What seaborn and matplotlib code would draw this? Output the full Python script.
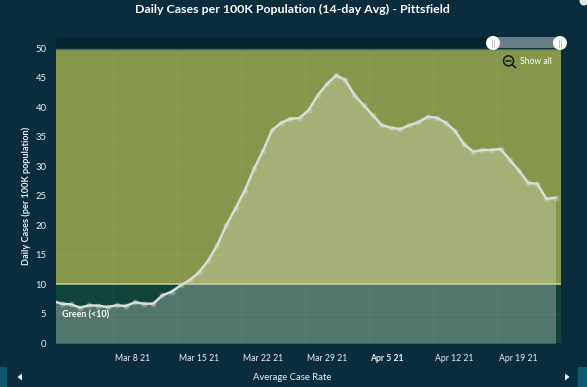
import matplotlib
matplotlib.use("Agg")
import matplotlib.pyplot as plt
import matplotlib.patches as mpatches
import matplotlib.transforms as mtransforms
import pandas as pd
import seaborn as sns

# daily values
case_rate = [7.15, 6.72, 6.60, 6.05, 6.44, 6.38, 6.16, 6.44, 6.32, 6.95, 6.72, 6.72, 8.13, 8.75,
             9.83, 10.73, 12.03, 14.0, 16.67, 20.05, 22.9, 25.88, 29.5, 32.66, 36.17, 37.4, 38.1, 38.2,
             39.56, 42.1, 43.97, 45.45, 44.65, 42.1, 40.4, 38.7, 37.0, 36.56, 36.34, 36.97, 37.48, 38.43,
             38.26, 37.4, 36.05, 33.74, 32.5, 32.78, 32.78, 32.95, 31.1, 29.3, 27.2, 27.05, 24.5, 24.7]
first_day = "2021-03-01 11:00"
week_ticks = ["2021-03-08", "2021-03-15", "2021-03-22", "2021-03-29", "2021-04-05", "2021-04-12", "2021-04-19", "2021-04-26"]
week_labels = ["Mar 8 21", "Mar 15 21", "Mar 22 21", "Mar 29 21", "Apr 5 21", "Apr 12 21", "Apr 19 21", ""]
y_ticks = [0, 5, 10, 15, 20, 25, 30, 35, 40, 45, 50]
green_limit = 10
y_top = 50

BG = "#0a2d3e"
TXT = "#e8eeee"
W, H = 587, 387

sns.set_theme(style="white")
plt.rcParams["font.family"] = ["Lato", "DejaVu Sans"]

df = pd.DataFrame({"date": pd.date_range(first_day, periods=len(case_rate), freq="D"), "rate": case_rate})

fig = plt.figure(figsize=(W / 100, H / 100), dpi=100, facecolor=BG)
L, R, T, B = 55.5, 560.5, 48.5, 343.3
ax = fig.add_axes([L / W, 1 - B / H, (R - L) / W, (B - T) / H])

# background zones
ax.axhspan(green_limit, y_top, color="#86964a", lw=0, zorder=0)
ax.axhspan(0, green_limit, color="#10433a", lw=0, zorder=0)

ticks = pd.to_datetime(week_ticks)
ax.set_yticks(y_ticks)
ax.set_xticks(ticks)
ax.grid(True, color="white", alpha=0.05, lw=0.8, zorder=1)
ax.set_axisbelow(False)

# area + line
ax.fill_between(df["date"], 0, df["rate"], color="#eeeee2", alpha=0.3, lw=0, zorder=2)
ax.axhline(green_limit, color="#c6d19e", lw=1.1, zorder=3)
sns.scatterplot(data=df, x="date", y="rate", ax=ax, s=18, color="#d9dcd8", alpha=0.35, linewidth=0, zorder=4)
sns.lineplot(data=df, x="date", y="rate", ax=ax, color="#d9dcd8", lw=1.8, zorder=5)

px_day = (496.3 - 112.5) / 42
ax.set_xlim(ticks[0] - pd.Timedelta(days=(112.5 - L) / px_day), ticks[-1])
ax.set_ylim(0, y_top)

ax.set_xticklabels(week_labels, ha="left", fontsize=6.2, color=TXT)
ax.set_yticklabels([str(v) for v in y_ticks], fontsize=6.8, color=TXT)
ax.get_xticklabels()[4].set_fontweight("bold")
ax.tick_params(axis="x", length=3, width=0.7, color="#5d7a80", pad=5)
ax.tick_params(axis="y", length=3.5, width=0.7, color="#5d7a80", pad=3)
# labels sit a little right of their tick
nudge = mtransforms.ScaledTranslation(2 / 100, 0, fig.dpi_scale_trans)
for lab in ax.get_xticklabels():
    lab.set_transform(lab.get_transform() + nudge)
ax.set_xlabel("")
ax.set_ylabel("Daily Cases (per 100K population)", fontsize=6.6, fontweight="bold", color=TXT, labelpad=3.5)
for name, spine in ax.spines.items():
    spine.set_visible(name == "top")
ax.spines["top"].set_color("#3f5f5c")
ax.spines["top"].set_linewidth(1)

# chrome: title, scroller, buttons, drawn in pixel coordinates
ov = fig.add_axes([0, 0, 1, 1], facecolor="none")
ov.set_xlim(0, W)
ov.set_ylim(H, 0)
ov.axis("off")

ov.text(292, 9.5, "Daily Cases per 100K Population (14-day Avg) - Pittsfield", ha="center", va="center",
        fontsize=8.9, fontweight="bold", color="white")
ov.text(62, 315.3, "Green (<10)", ha="left", va="center", fontsize=6.4, fontweight="bold", color="white")
ov.text(292.5, 377.5, "Average Case Rate", ha="center", va="center", fontsize=6.85, color=TXT)

# range slider
ov.add_patch(mpatches.Rectangle((L, 37), 438, 11, color="#06262f", lw=0))
ov.add_patch(mpatches.Rectangle((493, 37), 67.5, 11, color="#6b8086", lw=0))
for hx in [493, 560]:
    ov.add_patch(mpatches.Circle((hx, 43), 7, color="white", lw=0))
    ov.plot([hx - 1.1, hx - 1.1], [39.5, 46.5], color="#b9c4c6", lw=0.7)
    ov.plot([hx + 1.1, hx + 1.1], [39.5, 46.5], color="#b9c4c6", lw=0.7)

# "Show all" with the zoom out glass
ov.add_patch(mpatches.Circle((508.5, 60.8), 5, fill=False, ec="#10201c", lw=1.1))
ov.plot([505.8, 511.2], [60.8, 60.8], color="#10201c", lw=1.1)
ov.plot([512, 515.5], [64.5, 67.5], color="#10201c", lw=1.2)
ov.text(519.5, 61, "Show all", ha="left", va="center", fontsize=6.2, color="white")

# bottom scrollbar buttons
ov.add_patch(mpatches.Rectangle((0, 367), 7, 20, color="#0e5a70", lw=0))
ov.add_patch(mpatches.Rectangle((578, 367), 9, 20, color="#0e5a70", lw=0))
ov.add_patch(mpatches.Polygon([[22, 373.5], [22, 380.5], [17.5, 377]], color="white", lw=0))
ov.add_patch(mpatches.Polygon([[565, 373.5], [565, 380.5], [569.5, 377]], color="white", lw=0))
# bit of icon in the top right corner
ov.add_patch(mpatches.Circle((584, 1), 4.5, color="#e6e6e6", lw=0))

fig.savefig("out.png", dpi=100, facecolor=BG)
